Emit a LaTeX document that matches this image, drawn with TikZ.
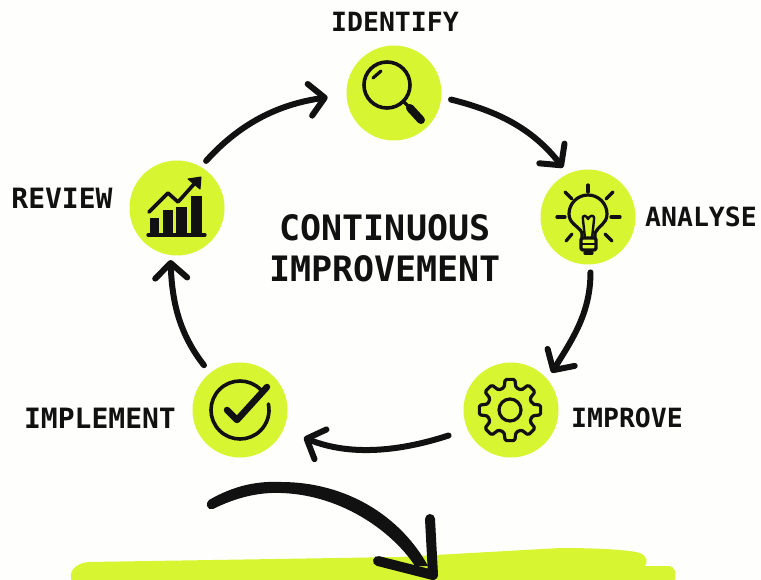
\documentclass[tikz,border=0pt]{standalone}
\usepackage{fontspec}
\setmainfont{DejaVu Sans Mono}[BoldFont={DejaVu Sans Mono Bold}]
\usetikzlibrary{arrows.meta}
\definecolor{lime}{HTML}{D8F532}
\definecolor{ink}{HTML}{111111}
\definecolor{paper}{HTML}{FEFEFC}
\tikzset{
  stage/.style={circle,fill=lime,minimum size=95pt,inner sep=0pt,outer sep=0pt},
  stagelabel/.style={font=\fontsize{26.5}{28}\selectfont\bfseries,text=ink,inner sep=0pt},
  widelabel/.style={font=\fontsize{28}{30}\selectfont\bfseries,text=ink,inner sep=0pt},
  centrelabel/.style={font=\fontsize{35}{37}\selectfont\bfseries,text=ink,inner sep=0pt},
  flow/.style={draw=ink,line width=6pt,line cap=round,line join=round,
    -{Straight Barb[length=15pt,width=32pt,line width=6pt,line cap=round,line join=round]}},
  iconline/.style={draw=ink,line width=3.2pt,line cap=round,line join=round},
  iconfill/.style={fill=ink,draw=ink,line width=1pt,line join=round}
}
\begin{document}
\begin{tikzpicture}[x=1pt,y=-1pt]
\useasboundingbox (0,0) rectangle (761,580);
\clip (0,0) rectangle (761,580);
\fill[paper] (0,0) rectangle (761,580);
% highlighter band
\fill[lime] (72,582) .. controls (68,572) and (74,564) .. (88,562) -- (400,557)
  -- (560,548) .. controls (600,548) and (630,550) .. (640,553)
  .. controls (647,556) and (648,562) .. (645,566) -- (668,566)
  .. controls (676,566) and (677,574) .. (674,582) -- cycle;
% stages
\node[stage] (identify) at (394,93) {};
\node[stage] (analyse) at (588,217) {};
\node[stage] (improve) at (511,410) {};
\node[stage] (implement) at (240,410) {};
\node[stage] (review) at (177,208) {};
% labels
\node[stagelabel] (lidentify) at (395,22) {IDENTIFY};
\node[stagelabel] (lanalyse) at (701,217) {ANALYSE};
\node[widelabel] (lreview) at (62,198) {REVIEW};
\node[widelabel] (limplement) at (100,418) {IMPLEMENT};
\node[stagelabel] (limprove) at (627,418) {IMPROVE};
\node[centrelabel] (c1) at (385,228) {CONTINUOUS};
\node[centrelabel] (c2) at (385,269) {IMPROVEMENT};
% connectors
\draw[flow,shorten <=10pt,shorten >=8pt] (identify.-5) to[out=-14,in=128] (analyse.115);
\draw[flow,shorten <=8pt,shorten >=8pt] (analyse.-87) to[out=-90,in=58] (improve.40);
\draw[flow,shorten <=20pt,shorten >=22pt] (improve.204) to[out=198,in=-22] (implement.-24);
\draw[flow,shorten <=10pt,shorten >=5pt] (implement.129) to[out=128,in=-88] (review.-98);
\draw[flow,shorten <=8pt,shorten >=19pt] (review.60) to[out=48,in=188] (identify.182);
% magnifier
\draw[iconline,line width=3.6pt] (387,85) circle[radius=23];
\draw[iconline] (373,78) -- (381,71);
\draw[iconline] (403,101) -- (410,108);
\draw[draw=ink,line width=8pt,line cap=round] (410,108) -- (421,120);
% bulb
\draw[iconline] (582,238) -- (582,233) .. controls (579,226) and (569,224) .. (569,214)
  arc[start angle=180,end angle=360,radius=19]
  .. controls (607,224) and (598,226) .. (595,233) -- (595,238);
\draw[iconline,line width=2.4pt] (585,238) -- (583,220) .. controls (582,213) and (587,216) .. (588,219)
  .. controls (589,216) and (595,213) .. (594,220) -- (592,238);
\draw[iconline,rounded corners=1.5pt] (581,238) rectangle (596,250);
\draw[iconline,line width=2.4pt] (581,244) -- (596,244);
\draw[iconline] (585,253) -- (592,253);
\foreach \xa/\ya/\xb/\yb in {588/185/588/192,565/192/572/199,613/192/606/199,557/217/565/217,611/217/620/217,566/241/572/234,612/241/605/234}
  \draw[iconline] (\xa,\ya) -- (\xb,\yb);
% chart
\draw[iconline] (148,235) -- (205,235);
\fill[ink] (150,218) rectangle (159,235);
\fill[ink] (163,210) rectangle (173,235);
\fill[ink] (176,207) rectangle (187,235);
\fill[ink] (191,196) rectangle (202,235);
\draw[iconline,line width=3.6pt] (149,212) -- (168,193) -- (178,202) -- (195,183);
\filldraw[iconfill] (188,179) -- (201,177) -- (200,189) -- cycle;
% gear
\draw[iconline] (510,410) circle[radius=11];
\draw[iconline,rounded corners=1.5pt] ({510+23*cos(-15)},{410+23*sin(-15)})
  \foreach \a in {0,45,...,315}{
    -- ({510+23*cos(\a-15)},{410+23*sin(\a-15)})
    -- ({510+31*cos(\a-9)},{410+31*sin(\a-9)})
    -- ({510+31*cos(\a+9)},{410+31*sin(\a+9)})
    -- ({510+23*cos(\a+15)},{410+23*sin(\a+15)})
  } -- cycle;
% check
\draw[iconline,line width=3.6pt] (240,410) ++(-45:29) arc[start angle=-45,end angle=-372,radius=29];
\draw[draw=ink,line width=6.5pt,line cap=round,line join=round] (227,410) -- (237,420) -- (267,387);
% bottom arrow
\fill[ink] (209,500) .. controls (235,485) and (258,481) .. (281,482)
  .. controls (345,482) and (400,515) .. (428,566)
  -- (415,566) .. controls (395,535) and (345,495) .. (281,493)
  .. controls (258,492) and (235,498) .. (213,509)
  .. controls (207,511) and (205,503) .. (209,500) -- cycle;
\draw[draw=ink,line width=10pt,line cap=round,line join=round] (430,519) -- (433,575) -- (378,561);
\end{tikzpicture}
\end{document}
